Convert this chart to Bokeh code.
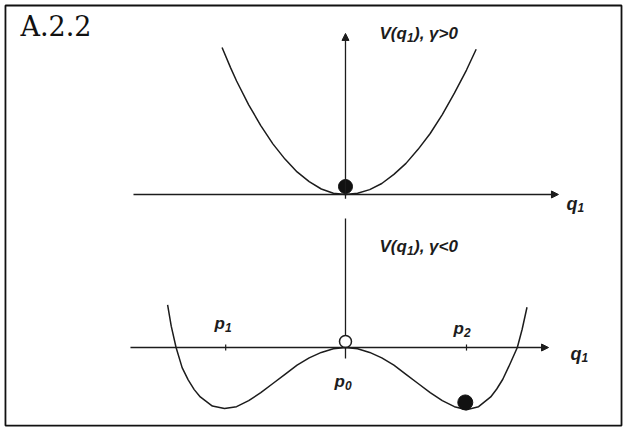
from bokeh.plotting import figure
from bokeh.models import Range1d, Arrow, NormalHead, Label
from bokeh.core.properties import value
from bokeh.embed import file_html
from bokeh.resources import INLINE

# ---- data ----
# upper panel: V(q1) for gamma > 0 (single well)
q_up = [-1.02, -0.95, -0.9, -0.8, -0.7, -0.6, -0.5, -0.4, -0.3, -0.2, -0.1, 0.0,
        0.1, 0.2, 0.3, 0.4, 0.5, 0.6, 0.7, 0.8, 0.9, 1.0, 1.08]
v_up = [2.41, 2.08, 1.86, 1.47, 1.13, 0.83, 0.58, 0.37, 0.21, 0.09, 0.02, 0.0,
        0.02, 0.08, 0.18, 0.33, 0.51, 0.74, 1.0, 1.31, 1.66, 2.04, 2.38]
# lower panel: V(q1) for gamma < 0 (double well)
q_dn = [-1.47, -1.44, -1.4, -1.35, -1.3, -1.25, -1.2, -1.1, -1.0, -0.9, -0.8, -0.7,
        -0.6, -0.5, -0.4, -0.3, -0.2, -0.1, 0.0, 0.1, 0.2, 0.3, 0.4, 0.5, 0.6,
        0.7, 0.8, 0.9, 1.0, 1.1, 1.2, 1.25, 1.3, 1.35, 1.42, 1.46, 1.5]
v_dn = [0.70, 0.35, 0.0, -0.33, -0.53, -0.69, -0.81, -0.96, -1.0, -0.97, -0.87, -0.74,
        -0.59, -0.44, -0.29, -0.17, -0.08, -0.02, 0.0, -0.02, -0.08, -0.17, -0.29, -0.44, -0.59,
        -0.74, -0.87, -0.97, -1.02, -0.97, -0.81, -0.68, -0.52, -0.31, 0.0, 0.3, 0.66]
# special points on the q1 axis (p1, p0, p2)
p_q = [-0.99, 0.0, 1.0]
ball_up = (0.0, 0.13)
ball_dn = (0.99, -0.90)
open_pt = (0.0, 0.10)

INK = "#1c1c1c"
PX = 1.0 / 121.0          # one pixel in q1 units

p = figure(width=625, height=432, x_range=Range1d(-2.851, 2.314),
           y_range=Range1d(-1.393, 5.689), output_backend="svg",
           toolbar_location=None, min_border=0)
p.extra_y_ranges = {"top": Range1d(-3.902, 3.180)}
p.axis.visible = False
p.grid.visible = False
p.outline_line_color = None
p.background_fill_color = "white"
p.border_fill_color = "white"

# frame around the figure
p.quad(left=[-2.810], right=[2.281], bottom=[-1.279], top=[5.607],
       fill_alpha=0, line_color="#111111", line_width=1.8)

# ----- upper panel -----
p.add_layout(Arrow(end=NormalHead(size=7, fill_color=INK, line_color=INK),
                   x_start=-1.752, y_start=0.0, x_end=1.76, y_end=0.0,
                   line_color=INK, line_width=1.6, y_range_name="top"))
p.add_layout(Arrow(end=NormalHead(size=7, fill_color=INK, line_color=INK),
                   x_start=0.0, y_start=-0.07, x_end=0.0, y_end=2.64,
                   line_color=INK, line_width=1.3, y_range_name="top"))
p.line(q_up, v_up, line_color=INK, line_width=1.5, y_range_name="top")
p.scatter([ball_up[0]], [ball_up[1]], size=14, color="#111111", y_range_name="top")

# ----- lower panel -----
p.add_layout(Arrow(end=NormalHead(size=7, fill_color=INK, line_color=INK),
                   x_start=-1.777, y_start=0.0, x_end=1.678, y_end=0.0,
                   line_color=INK, line_width=1.6))
p.segment(x0=[0.0], y0=[-0.18], x1=[0.0], y1=[2.115], line_color=INK, line_width=1.3)
p.segment(x0=[p_q[0], p_q[2]], y0=[-0.05, -0.05], x1=[p_q[0], p_q[2]], y1=[0.05, 0.05],
          line_color=INK, line_width=1.2)
p.line(q_dn, v_dn, line_color=INK, line_width=1.5)
p.scatter([open_pt[0]], [open_pt[1]], size=12, fill_color="white", line_color=INK, line_width=1.5)
p.scatter([ball_dn[0]], [ball_dn[1]], size=15, color="#111111")

# ----- texts -----
lab_font = value("Liberation Sans")


def sub_label(x, y, main, sub, size, sub_size, main_w, drop, rng="default", tail=None, tail_gap=0.0):
    """main text, a lowered subscript, optional trailing text (x, y = baseline start)"""
    kw = dict(text_font=lab_font, text_font_style="bold italic", text_color=INK,
              text_baseline="alphabetic", text_align="left")
    if rng != "default":
        kw["y_range_name"] = rng
    p.text(x=[x], y=[y], text=[main], text_font_size=f"{size}px", **kw)
    xs = x + main_w * PX
    p.text(x=[xs], y=[y - drop], text=[sub], text_font_size=f"{sub_size}px", **kw)
    if tail is not None:
        p.text(x=[xs + tail_gap * PX], y=[y], text=[tail], text_font_size=f"{size}px", **kw)


# V(q1) labels
sub_label(0.281, 2.639, "V(q", "1", 17, 12, 27.4, 0.066, rng="top",
          tail="), \u03b3>0", tail_gap=7.1)
sub_label(0.281, 1.656, "V(q", "1", 17, 12, 27.4, 0.066,
          tail="), \u03b3<0", tail_gap=7.1)
# q1 axis labels
sub_label(1.826, -0.148, "q", "1", 18, 12, 11.0, 0.066, rng="top")
sub_label(1.860, -0.098, "q", "1", 18, 12, 11.0, 0.066)
# p labels
sub_label(p_q[0] - 0.092, 0.393, "p", "1", 17, 12, 10.4, 0.066)
sub_label(p_q[1] - 0.091, -0.557, "p", "0", 17, 12, 10.4, 0.066)
sub_label(p_q[2] - 0.107, 0.311, "p", "2", 17, 12, 10.4, 0.066)

p.add_layout(Label(x=-2.686, y=2.754, text="A.2.2", y_range_name="top",
                   text_font="DejaVu Serif", text_font_size="27px",
                   text_color="#111111", text_baseline="middle", text_align="left"))

open("out.html", "w").write(file_html(p, INLINE))
